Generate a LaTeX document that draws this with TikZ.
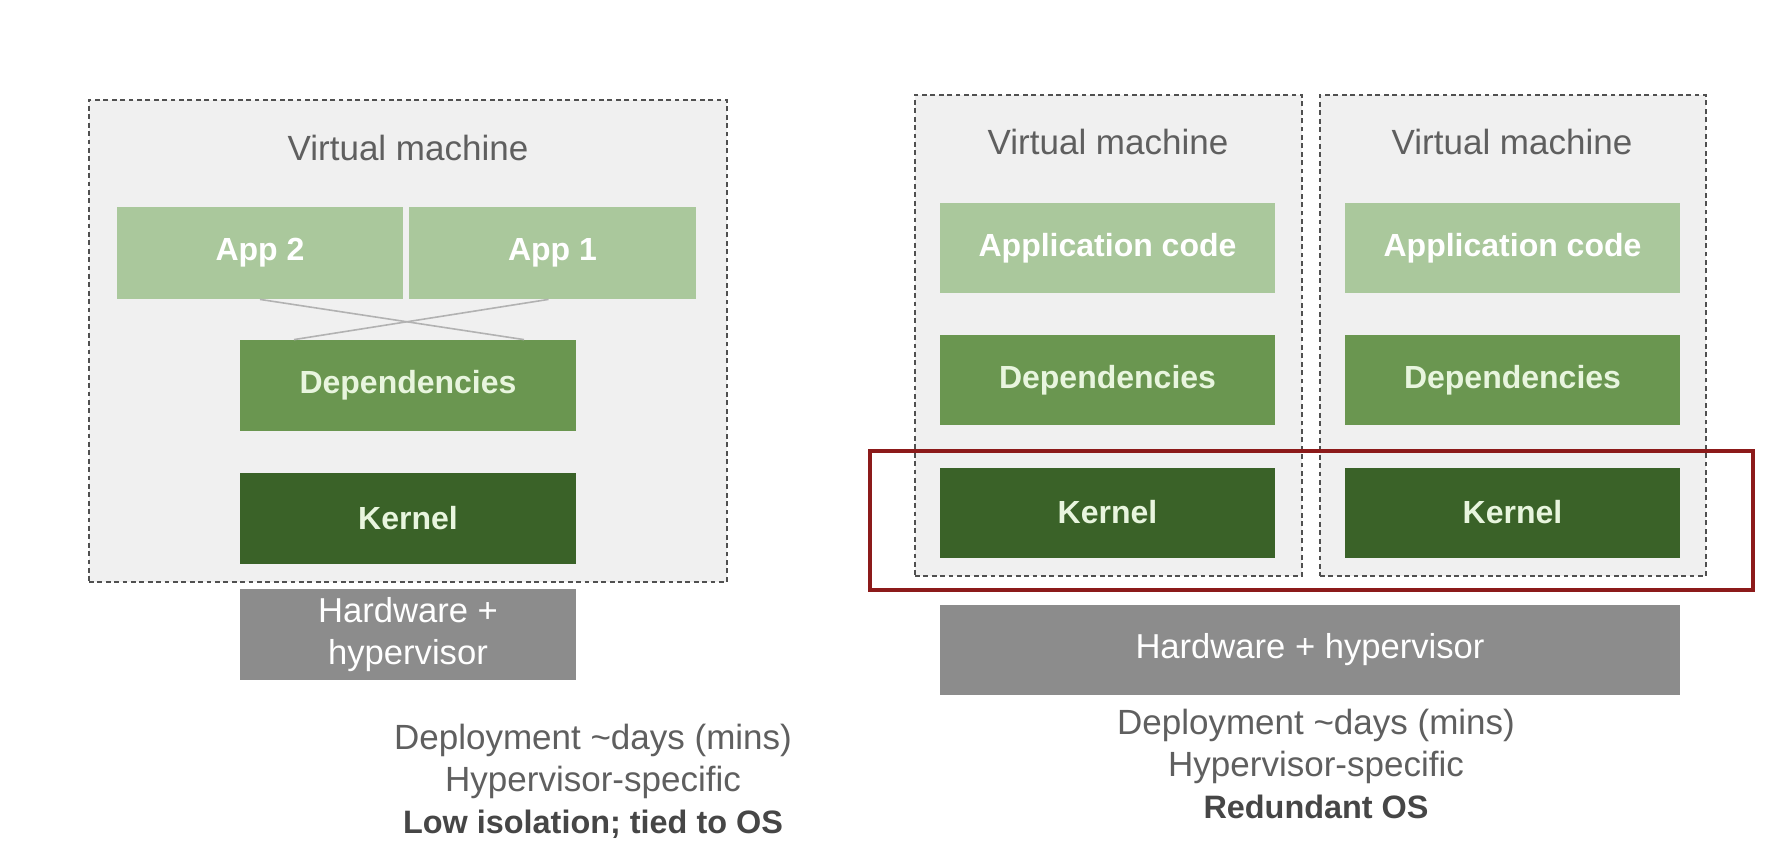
\documentclass[tikz,border=0pt]{standalone}
\usepackage{fontspec}
\setmainfont{Liberation Sans}
\usepackage{tikz}
\usetikzlibrary{shapes,arrows}

\definecolor{vmfill}{RGB}{240,240,240}
\definecolor{vmline}{RGB}{80,80,80}
\definecolor{appgreen}{RGB}{170,200,156}
\definecolor{depgreen}{RGB}{106,150,80}
\definecolor{kergreen}{RGB}{58,98,40}
\definecolor{hwgray}{RGB}{140,140,140}
\definecolor{redline}{RGB}{140,26,26}
\definecolor{captext}{RGB}{95,95,95}
\definecolor{boldtext}{RGB}{70,70,70}
\definecolor{paletext}{RGB}{232,245,222}

\begin{document}
\begin{tikzpicture}[x=0.5pt, y=-0.5pt,
  vmbox/.style={draw=vmline, fill=vmfill, line width=1.2pt, dash pattern=on 2.4pt off 1.8pt, inner sep=0pt},
  vmtitle/.style={text=captext, font=\fontsize{17.5}{21}\selectfont},
  layer/.style={inner sep=0pt, minimum height=45.5pt, text=paletext, font=\bfseries\fontsize{16}{20}\selectfont},
  appbox/.style={layer, fill=appgreen, text=white},
  depbox/.style={layer, fill=depgreen},
  kerbox/.style={layer, fill=kergreen},
  hwbox/.style={layer, fill=hwgray, text=white, align=center, font=\fontsize{17.3}{21}\selectfont},
  caption/.style={align=center, text=captext, font=\fontsize{17.5}{21}\selectfont}]
  \useasboundingbox[fill=white] (0,0) rectangle (1787,863);

  % Left: one VM, two apps
  \node[vmbox, minimum width=319pt, minimum height=241pt] (vm) at (408,341) {};
  \node[vmtitle] (vmtitle) at (408,148) {Virtual machine};
  \node[appbox, minimum width=143pt, minimum height=46pt] (app2) at (260,253) {App 2};
  \node[appbox, minimum width=143.5pt, minimum height=46pt] (app1) at (552.5,253) {App 1};
  \node[depbox, minimum width=168pt] (deps) at (408,385.5) {Dependencies};
  \node[kerbox, minimum width=168pt] (kernel) at (408,518.5) {Kernel};
  \node[hwbox, minimum width=168pt] (hw) at (408,634.5) {Hardware +\\hypervisor};

  % Crossed links
  \draw[gray!60, line width=0.8pt] (app2.south) -- ([xshift=58pt]deps.north);
  \draw[gray!60, line width=0.8pt] ([xshift=-2pt]app1.south) -- ([xshift=-57pt]deps.north);

  % Left caption
  \node[caption] (capl) at (593,781) {Deployment \textasciitilde days (mins)\\Hypervisor-specific\\{\color{boldtext}\bfseries\fontsize{16.2}{21}\selectfont Low isolation; tied to OS}};

  % Right: two VMs
  \node[vmbox, minimum width=193.5pt, minimum height=240.5pt] (vma) at (1108.5,335.5) {};
  \node[vmbox, minimum width=193pt, minimum height=240.5pt] (vmb) at (1513,335.5) {};
  \node[vmtitle] (vmatitle) at (1108,142) {Virtual machine};
  \node[vmtitle] (vmbtitle) at (1512,142) {Virtual machine};

  % Redundant kernels
  \node[draw=redline, line width=1.8pt, inner sep=0pt, minimum width=441.5pt, minimum height=69.5pt] (redbox) at (1311.5,520.5) {};

  \node[appbox, minimum width=167.5pt, minimum height=45pt] (codea) at (1107.5,248) {Application code};
  \node[depbox, minimum width=167.5pt, minimum height=45pt] (depsa) at (1107.5,380) {Dependencies};
  \node[kerbox, minimum width=167.5pt, minimum height=45pt] (kernela) at (1107.5,512.5) {Kernel};

  \node[appbox, minimum width=167.5pt, minimum height=45pt] (codeb) at (1512.5,248) {Application code};
  \node[depbox, minimum width=167.5pt, minimum height=45pt] (depsb) at (1512.5,380) {Dependencies};
  \node[kerbox, minimum width=167.5pt, minimum height=45pt] (kernelb) at (1512.5,512.5) {Kernel};

  \node[hwbox, minimum width=370pt, minimum height=45pt] (hwr) at (1310,650) {Hardware + hypervisor};

  % Right caption
  \node[caption] (capr) at (1316,764) {Deployment \textasciitilde days (mins)\\Hypervisor-specific\\{\color{boldtext}\bfseries\fontsize{16.2}{21}\selectfont Redundant OS}};
\end{tikzpicture}
\end{document}
